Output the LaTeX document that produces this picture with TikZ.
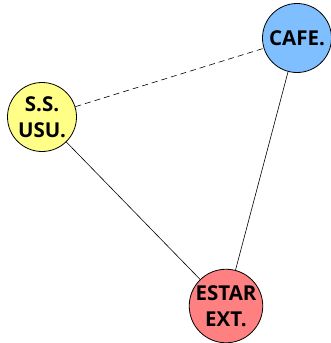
\documentclass[tikz,border=0pt]{standalone}
\usepackage{fontspec}
\setmainfont{Open Sans}
\usepackage{tikz}
\usetikzlibrary{positioning}
\usepackage{xcolor}
\definecolor{cafeblue}{HTML}{80BFFF}
\definecolor{ssyellow}{HTML}{FFFF88}
\definecolor{estarred}{HTML}{FF8080}

\begin{document}
\begin{tikzpicture}[x=1pt,y=-1pt,place/.style={circle,draw=black,line width=0.8pt,minimum size=69pt,inner sep=0pt,align=center,font=\fontsize{20.5}{26}\selectfont\bfseries}]
\useasboundingbox (0,0) rectangle (331,343);
\node[place,fill=cafeblue] (cafe) at (297,38) {CAFE.};
\node[place,fill=ssyellow] (ss) at (42,117) {S.S.\\USU.};
\node[place,fill=estarred] (estar) at (226,306) {ESTAR\\EXT.};
\draw[dashed,line width=0.6pt,dash pattern=on 6pt off 4pt] (ss) -- (cafe);
\draw[line width=0.6pt] (ss) -- (estar);
\draw[line width=0.6pt] (cafe) -- (estar);
\end{tikzpicture}
\end{document}
